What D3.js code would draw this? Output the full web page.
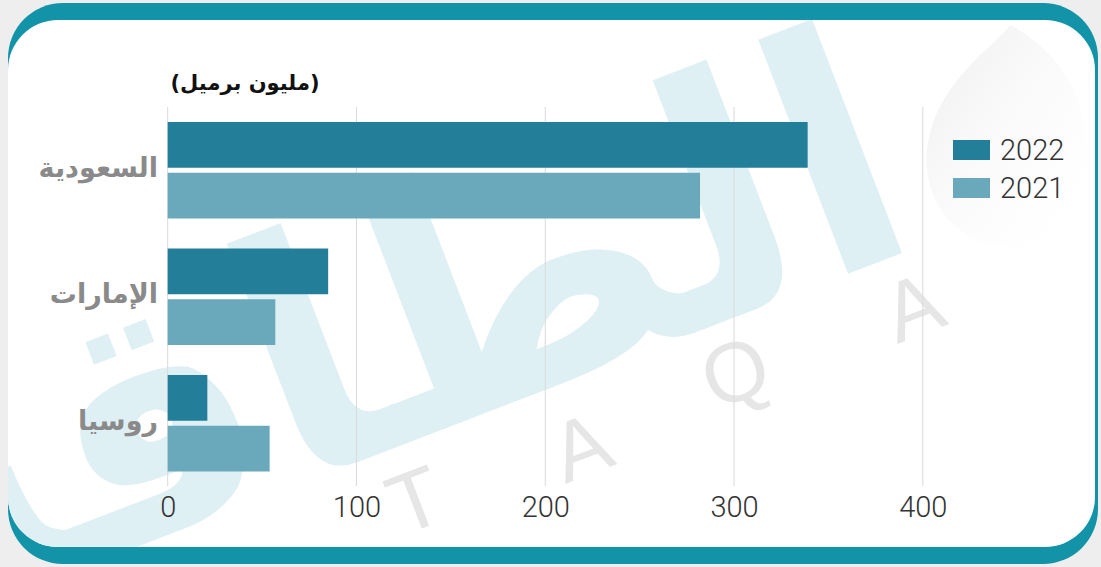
<!DOCTYPE html>
<html><head><meta charset="utf-8">
<script src="https://cdn.jsdelivr.net/npm/d3@7"></script>
<style>html,body{margin:0;padding:0;background:#eeeeee;}svg{display:block;}</style>
</head><body>
<script>
const categories = ["السعودية", "الإمارات", "روسيا"];
const seriesNames = ["2022", "2021"];
const values2022 = [339, 85, 21];
const values2021 = [282, 57, 54];
const xTicks = [0, 100, 200, 300, 400];
const unitLabel = "(مليون برميل)";
const watermarkWord = "الطاقة";
const watermarkLatin = ["T", "A", "Q", "A"];

const W = 1101, H = 567;
const colors = {"2022": "#237f99", "2021": "#69a9bb"};
const valueBy = {"2022": values2022, "2021": values2021};

const svg = d3.select("body").append("svg").attr("width", W).attr("height", H);
svg.append("rect").attr("width", W).attr("height", H).attr("fill", "#eeeeee");

// frame
svg.append("rect").attr("x", 8).attr("y", 3).attr("width", 1090).attr("height", 561)
  .attr("rx", 55).attr("fill", "#1293a8");
svg.append("rect").attr("x", 8).attr("y", 20).attr("width", 1087).attr("height", 527)
  .attr("rx", 50).attr("fill", "#ffffff");

const defs = svg.append("defs");
defs.append("clipPath").attr("id", "card").append("rect")
  .attr("x", 8).attr("y", 20).attr("width", 1087).attr("height", 527).attr("rx", 50);
const grad = defs.append("linearGradient").attr("id", "drop").attr("x1", 0).attr("y1", 0).attr("x2", 1).attr("y2", 1);
grad.append("stop").attr("offset", "0%").attr("stop-color", "#e6e6e6");
grad.append("stop").attr("offset", "100%").attr("stop-color", "#ffffff").attr("stop-opacity", 0);

const wm = svg.append("g").attr("clip-path", "url(#card)");
wm.append("text")
  .attr("transform", "translate(415,440) rotate(-21)")
  .attr("text-anchor", "middle")
  .attr("font-family", "DejaVu Sans")
  .attr("font-weight", "bold")
  .attr("font-size", 330)
  .attr("fill", "#dff0f5")
  .text(watermarkWord);

// pale drop shape top right
wm.append("path")
  .attr("d", "M1010,25 C1080,60 1100,140 1080,200 C1060,250 1000,260 960,230 C920,200 915,140 950,90 C975,55 1000,40 1010,25 Z")
  .attr("fill", "url(#drop)").attr("opacity", 0.7);

const latinPos = [[415, 500], [581, 447], [735, 372], [913, 307]];
watermarkLatin.forEach((c, i) => {
  wm.append("text")
    .attr("transform", `translate(${latinPos[i][0]},${latinPos[i][1]}) rotate(-21)`)
    .attr("text-anchor", "middle").attr("dominant-baseline", "central")
    .attr("font-family", "Liberation Sans").attr("font-size", 84)
    .attr("fill", "#e6e6e6").text(c);
});

// scales
const x = d3.scaleLinear().domain([0, 400]).range([167.7, 922.8]);
const y0 = d3.scaleBand().domain(categories).range([122, 471.5]).paddingInner(30 / 126.5).paddingOuter(0);
const y1 = d3.scaleBand().domain(seriesNames).range([0, y0.bandwidth()]).paddingInner(0.0985);

// grid
const gridTop = 107, gridBottom = 486;
svg.append("g").selectAll("line").data(xTicks).join("line")
  .attr("x1", d => x(d)).attr("x2", d => x(d))
  .attr("y1", gridTop).attr("y2", gridBottom)
  .attr("stroke", "#d9d9d9").attr("stroke-width", 1);

// axis labels
const axis = d3.axisBottom(x).tickValues(xTicks).tickSize(0).tickPadding(0);
const ax = svg.append("g").attr("transform", `translate(0,${gridBottom})`).call(axis);
ax.select(".domain").remove();
ax.selectAll("text")
  .attr("y", 21).attr("dy", "0.35em")
  .attr("font-family", "Roboto").attr("font-weight", 300)
  .attr("font-size", 29).attr("fill", "#333333");

// bars
const groups = svg.append("g").selectAll("g").data(categories).join("g")
  .attr("transform", d => `translate(0,${y0(d)})`);
groups.selectAll("rect").data((c, i) => seriesNames.map(s => ({s, v: valueBy[s][i]})))
  .join("rect")
  .attr("x", x(0)).attr("y", d => y1(d.s))
  .attr("width", d => x(d.v) - x(0)).attr("height", y1.bandwidth())
  .attr("fill", d => colors[d.s]);

// category labels
svg.append("g").selectAll("text").data(categories).join("text")
  .attr("x", 158).attr("y", d => y0(d) + y0.bandwidth() / 2 - 3)
  .attr("text-anchor", "end").attr("dominant-baseline", "central")
  .attr("font-family", "DejaVu Sans").attr("font-weight", "bold")
  .attr("font-size", 27).attr("fill", "#8a8a8a")
  .text(d => d);

// unit label
svg.append("text").attr("x", 245).attr("y", 83)
  .attr("text-anchor", "middle").attr("dominant-baseline", "central")
  .attr("font-family", "DejaVu Sans").attr("font-weight", "bold")
  .attr("font-size", 21).attr("fill", "#111111")
  .text(unitLabel);

// legend
const leg = svg.append("g").selectAll("g").data(seriesNames).join("g")
  .attr("transform", (d, i) => `translate(953,${140 + i * 38})`);
leg.append("rect").attr("width", 37).attr("height", 20).attr("fill", d => colors[d]);
leg.append("text").attr("x", 47).attr("y", 10).attr("dominant-baseline", "central")
  .attr("font-family", "Roboto").attr("font-weight", 300)
  .attr("font-size", 29).attr("fill", "#333333").text(d => d);
</script>
</body></html>
